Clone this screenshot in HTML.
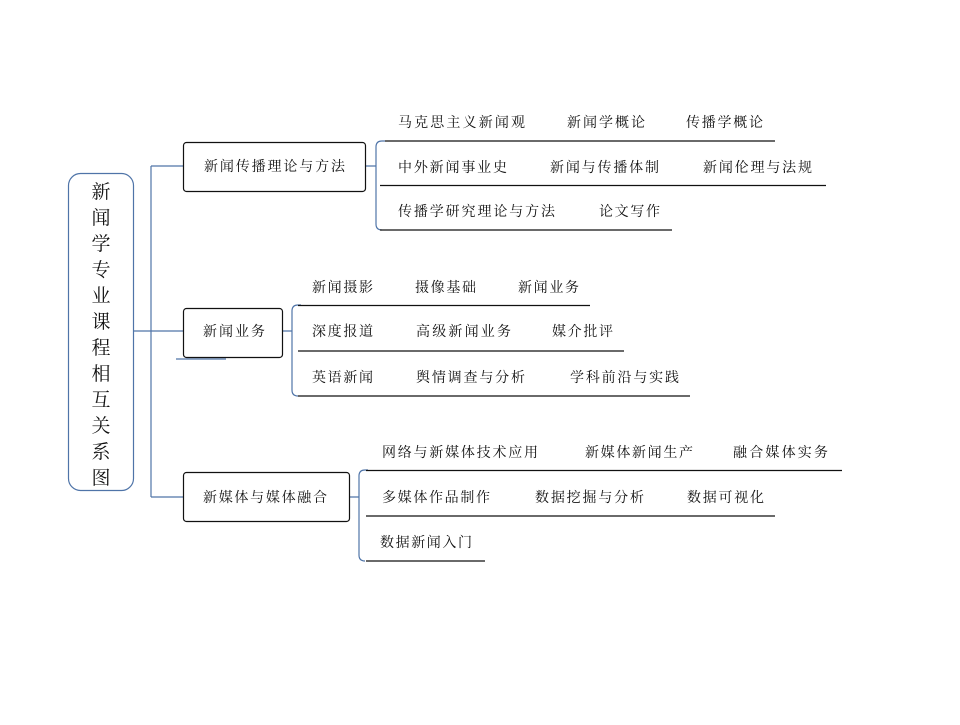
<!DOCTYPE html>
<html><head><meta charset="utf-8"><style>
html,body{margin:0;padding:0;background:#fff;}
svg text{font-family:"Liberation Serif","Noto Serif CJK SC",serif;font-size:14px;fill:#111;}
svg text.big{font-size:19px;}
</style></head><body>
<svg width="960" height="720" viewBox="0 0 960 720" xmlns="http://www.w3.org/2000/svg">
<g fill="none" stroke="#4f74a8" stroke-width="1.2">
<rect x="68.5" y="173.5" width="65" height="317" rx="12" ry="12"/>
<path d="M133 331 H151 M151 166 V497 M151 166 H183 M151 331 H183 M151 497 H183"/>
<path d="M365 166 H376 M282 331 H292 M349 497 H359"/>
<path d="M385 141 H382 Q376 141 376 147 V224 Q376 230 382 230"/>
<path d="M301 305 H298 Q292 305 292 311 V390 Q292 396 298 396"/>
<path d="M368 470 H365 Q359 470 359 476 V555 Q359 561 365 561"/>
<path d="M176 359 H226"/>
</g>
<g stroke="#111" stroke-width="1.2">
<line x1="385" y1="141" x2="775" y2="141"/>
<line x1="380" y1="185.5" x2="826" y2="185.5"/>
<line x1="380" y1="230" x2="672" y2="230"/>
<line x1="298" y1="305.5" x2="590" y2="305.5"/>
<line x1="298" y1="351" x2="624" y2="351"/>
<line x1="298" y1="396" x2="690" y2="396"/>
<line x1="366" y1="470.5" x2="842" y2="470.5"/>
<line x1="366" y1="516" x2="775" y2="516"/>
<line x1="366" y1="561" x2="485" y2="561"/>
</g>
<g fill="#fff" stroke="#111" stroke-width="1.2">
<rect x="183.5" y="142.5" width="182" height="49" rx="3"/>
<rect x="183.5" y="308.5" width="99" height="49" rx="3"/>
<rect x="183.5" y="472.5" width="166" height="49" rx="3"/>
</g>
<g>
<text x="204" y="171" textLength="141" lengthAdjust="spacing">新闻传播理论与方法</text>
<text x="203" y="336" textLength="62" lengthAdjust="spacing">新闻业务</text>
<text x="203" y="502" textLength="124" lengthAdjust="spacing">新媒体与媒体融合</text>

<text x="398" y="127" textLength="127" lengthAdjust="spacing">马克思主义新闻观</text>
<text x="567" y="127" textLength="78" lengthAdjust="spacing">新闻学概论</text>
<text x="686" y="127" textLength="77" lengthAdjust="spacing">传播学概论</text>
<text x="398" y="172" textLength="109" lengthAdjust="spacing">中外新闻事业史</text>
<text x="550" y="172" textLength="109" lengthAdjust="spacing">新闻与传播体制</text>
<text x="703" y="172" textLength="109" lengthAdjust="spacing">新闻伦理与法规</text>
<text x="398" y="216" textLength="157" lengthAdjust="spacing">传播学研究理论与方法</text>
<text x="599" y="216" textLength="61" lengthAdjust="spacing">论文写作</text>

<text x="312" y="292" textLength="61" lengthAdjust="spacing">新闻摄影</text>
<text x="415" y="292" textLength="61" lengthAdjust="spacing">摄像基础</text>
<text x="518" y="292" textLength="61" lengthAdjust="spacing">新闻业务</text>
<text x="312" y="336" textLength="61" lengthAdjust="spacing">深度报道</text>
<text x="416" y="336" textLength="95" lengthAdjust="spacing">高级新闻业务</text>
<text x="552" y="336" textLength="61" lengthAdjust="spacing">媒介批评</text>
<text x="312" y="382" textLength="61" lengthAdjust="spacing">英语新闻</text>
<text x="416" y="382" textLength="109" lengthAdjust="spacing">舆情调查与分析</text>
<text x="570" y="382" textLength="109" lengthAdjust="spacing">学科前沿与实践</text>

<text x="382" y="457" textLength="156" lengthAdjust="spacing">网络与新媒体技术应用</text>
<text x="585" y="457" textLength="108" lengthAdjust="spacing">新媒体新闻生产</text>
<text x="733" y="457" textLength="95" lengthAdjust="spacing">融合媒体实务</text>
<text x="382" y="502" textLength="108" lengthAdjust="spacing">多媒体作品制作</text>
<text x="535" y="502" textLength="109" lengthAdjust="spacing">数据挖掘与分析</text>
<text x="687" y="502" textLength="77" lengthAdjust="spacing">数据可视化</text>
<text x="380" y="547" textLength="92" lengthAdjust="spacing">数据新闻入门</text>
</g>
<g text-anchor="middle">
<text class="big" x="101" y="198">新</text>
<text class="big" x="101" y="224">闻</text>
<text class="big" x="101" y="250">学</text>
<text class="big" x="101" y="276">专</text>
<text class="big" x="101" y="302">业</text>
<text class="big" x="101" y="328">课</text>
<text class="big" x="101" y="354">程</text>
<text class="big" x="101" y="380">相</text>
<text class="big" x="101" y="406">互</text>
<text class="big" x="101" y="432">关</text>
<text class="big" x="101" y="458">系</text>
<text class="big" x="101" y="484">图</text>
</g>
</svg>
</body></html>
